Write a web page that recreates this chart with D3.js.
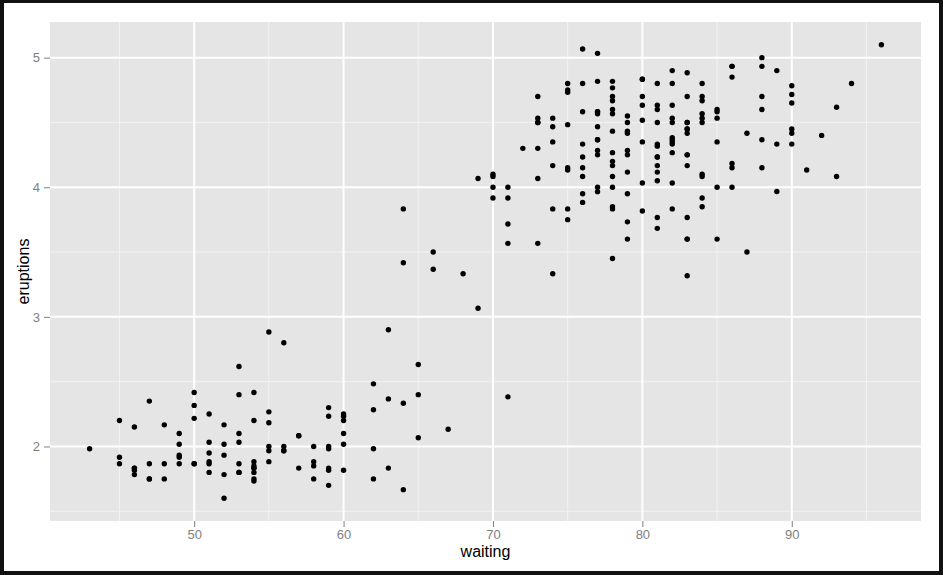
<!DOCTYPE html>
<html><head><meta charset="utf-8">
<script src="https://cdn.jsdelivr.net/npm/d3@7"></script>
<style>
html,body{margin:0;padding:0;background:#111;}
svg{display:block;}
</style></head>
<body>
<svg id="chart" width="943" height="575"></svg>
<script>
const waiting = [79,54,74,62,85,55,88,85,51,85,54,84,78,47,83,52,62,84,52,79,51,47,78,69,74,83,55,76,78,79,73,77,66,80,74,52,48,80,59,90,80,58,84,58,73,83,64,53,82,59,75,90,54,80,54,83,71,64,77,81,59,84,48,82,60,92,78,78,65,73,82,56,79,71,62,76,60,78,76,83,75,82,70,65,73,88,76,80,48,86,60,90,50,78,63,72,84,75,51,82,62,88,49,83,81,47,84,52,86,81,75,59,89,79,59,81,50,85,59,87,53,69,77,56,88,81,45,82,55,90,45,83,56,89,46,82,51,86,53,79,81,60,82,77,76,59,80,49,96,53,77,77,65,81,71,70,81,93,53,89,45,86,58,78,66,76,63,88,52,93,49,57,77,68,81,81,73,50,85,74,55,77,83,83,51,78,84,46,83,55,81,57,76,84,77,81,87,77,51,78,60,82,91,53,78,46,77,84,49,83,71,80,49,75,64,76,53,94,55,76,50,82,54,75,78,79,78,78,70,79,70,54,86,50,90,54,54,77,79,64,75,47,86,63,85,82,57,82,67,74,54,83,73,73,88,80,71,83,56,79,78,84,58,83,43,60,75,81,46,90,46,74];
const eruptions = [3.600,1.800,3.333,2.283,4.533,2.883,4.700,3.600,1.950,4.350,1.833,3.917,4.200,1.750,4.700,2.167,1.750,4.800,1.600,4.250,1.800,1.750,3.450,3.067,4.533,3.600,1.967,4.083,3.850,4.433,4.300,4.467,3.367,4.033,3.833,2.017,1.867,4.833,1.833,4.783,4.350,1.883,4.567,1.750,4.533,3.317,3.833,2.100,4.633,2.000,4.800,4.716,1.833,4.833,1.733,4.883,3.717,1.667,4.567,4.317,2.233,4.500,1.750,4.800,1.817,4.400,4.167,4.700,2.067,4.700,4.033,1.967,4.500,4.000,1.983,5.067,2.017,4.567,3.883,3.600,4.133,4.333,4.100,2.633,4.067,4.933,3.950,4.517,2.167,4.000,2.200,4.333,1.867,4.817,1.833,4.300,4.667,3.750,1.867,4.900,2.483,4.367,2.100,4.500,4.050,1.867,4.700,1.783,4.850,3.683,4.733,2.300,4.900,4.417,1.700,4.633,2.317,4.600,1.817,4.417,2.617,4.067,4.250,1.967,4.600,3.767,1.917,4.500,2.267,4.650,1.867,4.167,2.800,4.333,1.833,4.383,1.883,4.933,2.033,3.733,4.233,2.233,4.533,4.817,4.333,1.983,4.633,2.017,5.100,1.800,5.033,4.000,2.400,4.600,3.567,4.000,4.500,4.083,1.800,3.967,2.200,4.150,2.000,3.833,3.500,4.583,2.367,5.000,1.933,4.617,1.917,2.083,4.583,3.333,4.167,4.333,4.500,2.417,4.000,4.167,1.883,4.583,4.250,3.767,2.033,4.433,4.083,1.833,4.417,2.183,4.800,1.833,4.800,4.100,3.966,4.233,3.500,4.366,2.250,4.667,2.100,4.350,4.133,1.867,4.600,1.783,4.367,3.850,1.933,4.500,2.383,4.700,1.867,3.833,3.417,4.233,2.400,4.800,2.000,4.150,1.867,4.267,1.750,4.483,4.000,4.117,4.083,4.267,3.917,4.550,4.083,2.417,4.183,2.217,4.450,1.883,1.850,4.283,3.950,2.333,4.150,2.350,4.933,2.900,4.583,3.833,2.083,4.367,2.133,4.350,2.200,4.450,3.567,4.500,4.150,3.817,3.917,4.450,2.000,4.283,4.767,4.533,1.850,4.250,1.983,2.250,4.750,4.117,2.150,4.417,1.817,4.467];
const xTicks = [50,60,70,80,90];
const yTicks = [2,3,4,5];
const xMinor = [45,55,65,75,85,95];
const yMinor = [1.5,2.5,3.5,4.5];
const xTitle = "waiting";
const yTitle = "eruptions";

const svg = d3.select("#chart");
svg.append("rect").attr("x",4).attr("y",3).attr("width",935).attr("height",568).attr("fill","#ffffff");

const pLeft = 50, pRight = 921, pTop = 22, pBottom = 521;
const xExt = d3.extent(waiting), yExt = d3.extent(eruptions);
const xPad = (xExt[1]-xExt[0])*0.05, yPad = (yExt[1]-yExt[0])*0.05;
const x = d3.scaleLinear().domain([xExt[0]-xPad, xExt[1]+xPad]).range([pLeft, pRight]);
const y = d3.scaleLinear().domain([yExt[0]-yPad, yExt[1]+yPad]).range([pBottom, pTop]);

svg.append("rect").attr("x",pLeft).attr("y",pTop).attr("width",pRight-pLeft).attr("height",pBottom-pTop).attr("fill","#e5e5e5");

const g = svg.append("g");
g.selectAll(".xmin").data(xMinor.filter(v=>x(v)>pLeft&&x(v)<pRight)).join("line")
  .attr("x1",d=>x(d)).attr("x2",d=>x(d)).attr("y1",pTop).attr("y2",pBottom)
  .attr("stroke","#f2f2f2").attr("stroke-width",1);
g.selectAll(".ymin").data(yMinor.filter(v=>y(v)>pTop&&y(v)<pBottom)).join("line")
  .attr("x1",pLeft).attr("x2",pRight).attr("y1",d=>y(d)).attr("y2",d=>y(d))
  .attr("stroke","#f2f2f2").attr("stroke-width",1);
g.selectAll(".xmaj").data(xTicks).join("line")
  .attr("x1",d=>x(d)).attr("x2",d=>x(d)).attr("y1",pTop).attr("y2",pBottom)
  .attr("stroke","#ffffff").attr("stroke-width",2);
g.selectAll(".ymaj").data(yTicks).join("line")
  .attr("x1",pLeft).attr("x2",pRight).attr("y1",d=>y(d)).attr("y2",d=>y(d))
  .attr("stroke","#ffffff").attr("stroke-width",2);

const xAxis = d3.axisBottom(x).tickValues(xTicks).tickSize(6).tickPadding(3).tickFormat(d3.format("d"));
const yAxis = d3.axisLeft(y).tickValues(yTicks).tickSize(6).tickPadding(4).tickFormat(d3.format("d"));
const ax = svg.append("g").attr("transform",`translate(0,${pBottom})`).call(xAxis);
const ay = svg.append("g").attr("transform",`translate(${pLeft},0)`).call(yAxis);
[ax,ay].forEach(a=>{
  a.select(".domain").remove();
  a.selectAll(".tick line").attr("stroke","#7f7f7f");
  a.selectAll(".tick text").attr("fill","#7f7f7f").style("font-family","Liberation Sans, Arial, sans-serif").style("font-size","13px");
});

svg.append("g").selectAll("circle").data(waiting.map((w,i)=>[w,eruptions[i]])).join("circle")
  .attr("cx",d=>x(d[0])).attr("cy",d=>y(d[1])).attr("r",2.7).attr("fill","#000");

svg.append("text").attr("x",(pLeft+pRight)/2).attr("y",557).attr("text-anchor","middle")
  .style("font-family","Liberation Sans, Arial, sans-serif").style("font-size","16px").attr("fill","#000").text(xTitle);
svg.append("text").attr("transform",`translate(29,${(pTop+pBottom)/2}) rotate(-90)`).attr("text-anchor","middle")
  .style("font-family","Liberation Sans, Arial, sans-serif").style("font-size","16px").attr("fill","#000").text(yTitle);
</script>
</body></html>
